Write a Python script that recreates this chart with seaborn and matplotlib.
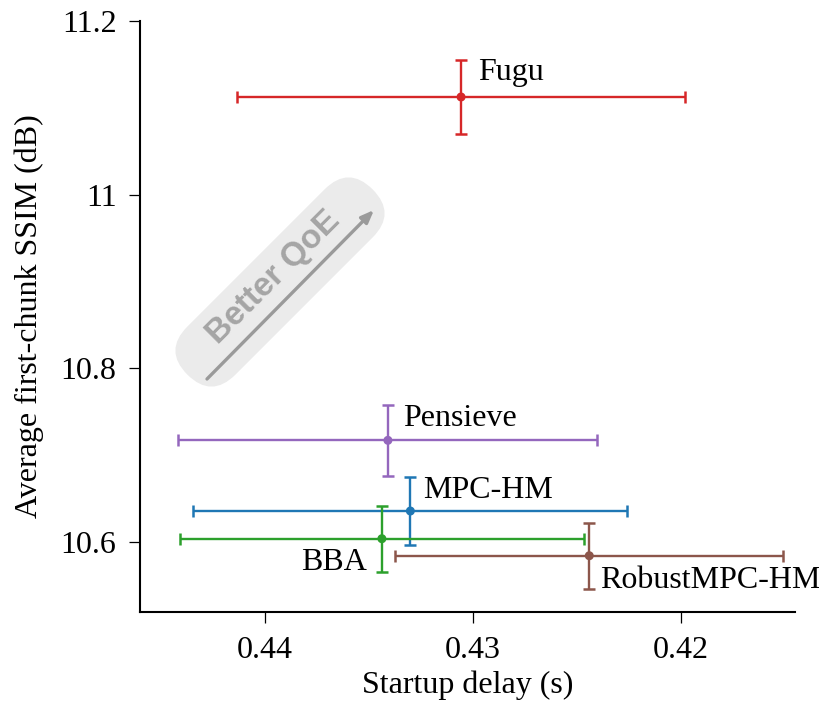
import matplotlib
matplotlib.use("Agg")
import matplotlib.pyplot as plt
import seaborn as sns
import pandas as pd
from matplotlib.patches import FancyBboxPatch
from matplotlib.transforms import Affine2D, IdentityTransform

schemes = ["Fugu", "Pensieve", "MPC-HM", "BBA", "RobustMPC-HM"]
delay = [0.43057, 0.43409, 0.43301, 0.43438, 0.42440]
delay_err = [0.01078, 0.01008, 0.01044, 0.00972, 0.00934]
ssim = [11.1125, 10.7171, 10.6357, 10.6038, 10.5842]
ssim_err = [0.0428, 0.0411, 0.0386, 0.0378, 0.0380]
colors = ["#d62728", "#9467bd", "#1f77b4", "#2ca02c", "#8c564b"]
label_offsets = [(17, 24, "left"), (15, 22, "left"), (13, 21, "left"),
                 (-15, -24, "right"), (11, -25, "left")]
x_ticks = [0.44, 0.43, 0.42]
y_ticks = [10.6, 10.8, 11.0, 11.2]
y_ticklabels = ["10.6", "10.8", "11", "11.2"]

df = pd.DataFrame({"scheme": schemes, "delay": delay, "ssim": ssim})

sns.set_style("ticks")
plt.rcParams["font.family"] = ["Liberation Serif", "DejaVu Serif"]
plt.rcParams["text.color"] = "black"
plt.rcParams["axes.labelcolor"] = "black"
plt.rcParams["xtick.color"] = "black"
plt.rcParams["ytick.color"] = "black"

FS = 23
fig = plt.figure(figsize=(8.2, 7.04), dpi=100)
ax = fig.add_axes([140 / 820, 92 / 704, 655 / 820, 591 / 704])

for i in range(len(schemes)):
    ax.errorbar(delay[i], ssim[i], xerr=delay_err[i], yerr=ssim_err[i],
                fmt="none", ecolor=colors[i], elinewidth=1.7, capsize=4.5,
                capthick=1.8, zorder=3)
sns.scatterplot(data=df, x="delay", y="ssim", hue="scheme", palette=colors,
                s=42, edgecolor="none", legend=False, ax=ax, zorder=4)

for i in range(len(schemes)):
    dx, dy, ha = label_offsets[i]
    ax.annotate(schemes[i], (delay[i], ssim[i]), xytext=(dx, dy),
                textcoords="offset pixels", ha=ha, va="center", fontsize=FS,
                color="black")

ax.set_xlim(0.44602, 0.4145)
ax.set_ylim(10.5194, 11.2)
ax.set_xticks(x_ticks)
ax.set_xticklabels([f"{t:.2f}" for t in x_ticks])
ax.set_yticks(y_ticks)
ax.set_yticklabels(y_ticklabels)
ax.tick_params(labelsize=FS, length=8, width=0.9, color="black",
               labelcolor="black", pad=9)
ax.set_xlabel("Startup delay (s)", fontsize=FS, labelpad=4, color="black")
ax.set_ylabel("Average first-chunk SSIM (dB)", fontsize=FS, labelpad=12,
              color="black")
for s in ["left", "bottom"]:
    ax.spines[s].set_linewidth(1.5)
    ax.spines[s].set_color("black")
sns.despine(ax=ax)

# "Better QoE" decoration (figure pixel coordinates)
H = 704
cx, cy = 280, H - 282
L, W = 262, 68
pill = FancyBboxPatch((cx - L / 2, cy - W / 2), L, W,
                      boxstyle=f"round,pad=0,rounding_size={W/2}",
                      facecolor="#ebebeb", edgecolor="none",
                      zorder=1, clip_on=False)
ax.add_patch(pill)
pill.set_transform(Affine2D().rotate_deg_around(cx, cy, 45) + IdentityTransform())
ax.annotate("", xy=(374, H - 210), xytext=(207, H - 379),
            xycoords="figure pixels", textcoords="figure pixels",
            arrowprops=dict(arrowstyle="-|>,head_length=0.75,head_width=0.3",
                            color="#9a9a9a", lw=2.4, shrinkA=0, shrinkB=0),
            zorder=2)
ax.text(274 / 820, (H - 277) / H, "Better QoE", rotation=45, ha="center",
        va="center", fontsize=24, fontweight="bold", color="#a5a5a5",
        family=["Liberation Sans", "DejaVu Sans"], zorder=2,
        transform=fig.transFigure)

fig.savefig("out.png", dpi=100)
